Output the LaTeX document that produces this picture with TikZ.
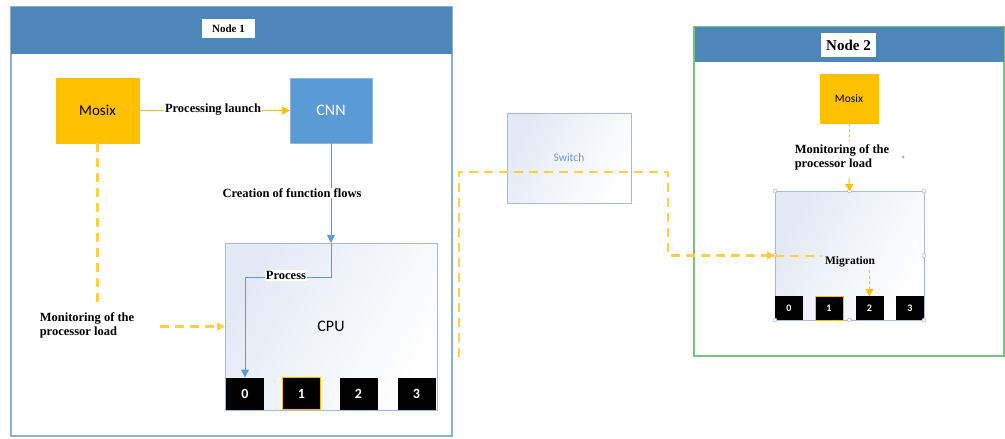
\documentclass[tikz,border=0pt]{standalone}
\usepackage{fontspec}
\setmainfont{Liberation Serif}
\newfontfamily\calfont{Carlito}
\usetikzlibrary{arrows.meta}
\definecolor{hdr}{HTML}{4F86BA}
\definecolor{frm}{HTML}{8EAED2}
\definecolor{grn}{HTML}{7CC07C}
\definecolor{mos}{HTML}{FFC000}
\definecolor{cnn}{HTML}{5B9BD5}
\definecolor{dsh}{HTML}{FFCF4A}
\definecolor{cpub}{HTML}{A3BCD9}
\definecolor{cpuf}{HTML}{E3E9F5}
\definecolor{swt}{HTML}{6F9BC8}
\tikzset{
  box/.style={inner sep=0pt, outer sep=0pt},
  frame1/.style={box, draw=frm, line width=1.2pt, fill=white},
  frame2/.style={box, draw=grn, line width=1.2pt, fill=white},
  header/.style={box, fill=hdr},
  hlabel/.style={box, fill=white, font=\bfseries},
  mosbox/.style={box, fill=mos, draw=mos, font=\calfont},
  cnnbox/.style={box, fill=cnn, draw=cnn!70!white, text=white, font=\calfont\fontsize{16}{18}\selectfont},
  cpubox/.style={box, draw=cpub, line width=0.9pt, left color=cpuf, right color=white, shading angle=60, font=\calfont\fontsize{16}{18}\selectfont},
  core/.style={box, fill=black, text=white, font=\calfont\bfseries\fontsize{14}{15}\selectfont},
  smallcore/.style={core, minimum width=28pt, minimum height=24pt, font=\calfont\bfseries\fontsize{10}{11}\selectfont},
  lbl/.style={box, fill=white, font=\bfseries\fontsize{12.5}{13}\selectfont, inner sep=1pt},
  solidor/.style={draw=mos, line width=1pt},
  blueline/.style={draw=cnn, line width=1pt},
  dashor/.style={draw=dsh, line width=2.2pt, dash pattern=on 9pt off 6pt},
  thindash/.style={draw=mos, line width=1pt, dash pattern=on 3pt off 2.5pt},
  tip/.style={-{Triangle[width=8pt,length=8pt]}},
  handle/.style={circle, draw=gray!70, fill=white, inner sep=0pt, minimum size=4pt, line width=0.4pt},
}
\begin{document}
\begin{tikzpicture}[x=1pt,y=-1pt]
\useasboundingbox (0,0) rectangle (1005,439);
\fill[white] (0,0) rectangle (1005,439);

% ---------- Node 1 ----------
\node[frame1, minimum width=441pt, minimum height=429pt] (n1) at (231.5,221.5) {};
\node[header, minimum width=441pt, minimum height=47pt] (h1) at (231.5,30.5) {};
\node[hlabel, minimum width=53pt, minimum height=19pt, font=\bfseries\fontsize{11}{12}\selectfont] (l1) at (228.5,28.5) {Node 1};

\node[mosbox, minimum width=83pt, minimum height=65pt, font=\calfont\fontsize{15}{17}\selectfont] (mos1) at (97.5,110.5) {Mosix};
\node[cnnbox, minimum width=82pt, minimum height=65pt] (cnn) at (331,110.5) {CNN};

\node[cpubox, minimum width=212pt, minimum height=167pt] (cpu1) at (331,326.5) {CPU};
\node[core, minimum width=38pt, minimum height=32pt] (c10) at (245,393.5) {0};
\node[core, minimum width=38pt, minimum height=32pt, draw=mos, line width=0.9pt] (c11) at (301.5,393.5) {1};
\node[core, minimum width=38pt, minimum height=32pt] (c12) at (358.5,393.5) {2};
\node[core, minimum width=38pt, minimum height=32pt] (c13) at (416.5,393.5) {3};

% Processing launch
\path[solidor, tip] (mos1.east) -- (cnn.west);
\node[lbl] (pl) at (213,110) {Processing launch};

% Creation of function flows
\path[blueline, tip] (cnn.south) -- (cpu1.north);
\node[lbl] (cf) at (292,193) {Creation of function flows};

% Process
\path[blueline, tip] (cpu1.north) -- ++(0,34) coordinate (p1) -| (c10.north);
\node[lbl] (pr) at (286,275.5) {Process};

% Monitoring (node 1)
\coordinate (m1end) at (97.5,303);
\path[dashor] (mos1.south) -- (m1end);
\node[lbl, align=left, font=\bfseries\fontsize{12.5}{13.5}\selectfont] (mon1) at (87,325.5) {Monitoring of the\\processor load};
\coordinate (m1start) at (160,326.5);
\path[dashor, tip] (m1start) -- (cpu1.west);

% ---------- Switch ----------
\node[cpubox, minimum width=124pt, minimum height=90pt, text=swt, font=\calfont\fontsize{11.5}{13}\selectfont] (sw) at (569,158) {Switch};

% ---------- Node 2 ----------
\node[frame2, minimum width=310pt, minimum height=329pt] (n2) at (849,191.5) {};
\node[header, minimum width=309pt, minimum height=35pt] (h2) at (849,44.5) {};
\node[hlabel, minimum width=55pt, minimum height=24pt, font=\bfseries\fontsize{15}{16}\selectfont] (l2) at (848.5,45) {Node 2};

\node[mosbox, minimum width=58pt, minimum height=49pt, font=\calfont\fontsize{11.5}{13}\selectfont] (mos2) at (849,98.5) {Mosix};

\node[cpubox, minimum width=149pt, minimum height=129pt] (cpu2) at (849.5,255.5) {};
\node[smallcore] (c20) at (789,308) {0};
\node[smallcore, draw=mos, line width=0.7pt] (c21) at (829,308) {1};
\node[smallcore] (c22) at (869.5,308) {2};
\node[smallcore] (c23) at (910,308) {3};

% selection handles
\foreach \a in {north west,north,north east,west,east,south west,south,south east}
  \node[handle] at (cpu2.\a) {};
\node[circle, fill=gray!60, inner sep=0pt, minimum size=3pt] (dot) at (903,157) {};

% Monitoring (node 2)
\coordinate (m2end) at (849,140);
\path[thindash] (mos2.south) -- (m2end);
\node[lbl, align=left, font=\bfseries\fontsize{12.5}{13.5}\selectfont] (mon2) at (842,157.5) {Monitoring of the\\processor load};
\coordinate (m2start) at (849,178);
\path[draw=mos, line width=1pt, -{Triangle[width=8pt,length=7pt]}] (m2start) -- (cpu2.north);

% Migration path
\coordinate (sA) at (459,357);
\path[dashor, tip] (sA) |- (sw.west |- 0,172) -- (668,172) |- (cpu2.west);
\coordinate (mgA) at (822,255.5);
\path[dashor, line width=2pt] (cpu2.west) -- (mgA);
\node[lbl, font=\bfseries\fontsize{11.5}{12}\selectfont, fill=none] (mg) at (850,262) {Migration};
\coordinate (mgB) at (869.5,270);
\path[thindash, -{Triangle[width=8pt,length=7pt]}] (mgB) -- (c22.north);
\end{tikzpicture}
\end{document}
